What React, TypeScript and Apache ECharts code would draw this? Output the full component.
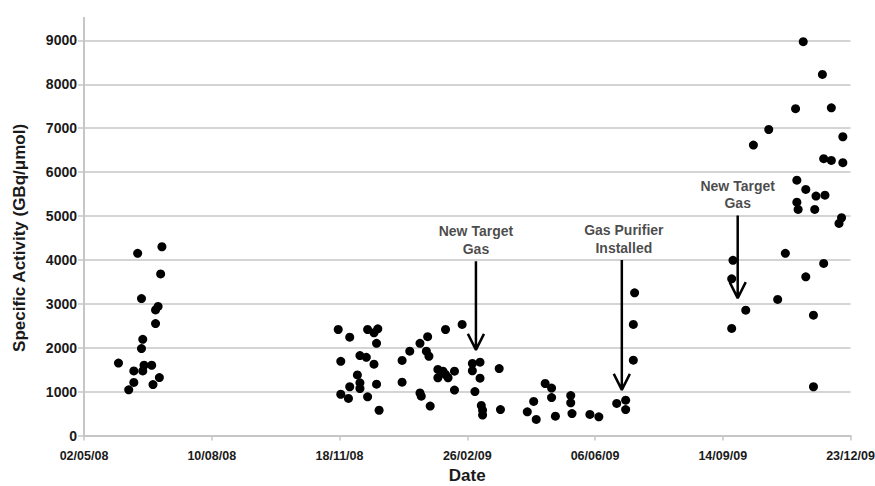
import React, { useEffect, useRef } from "react";
import * as echarts from "echarts";

// x = days since 02/05/08, y = specific activity (GBq/µmol)
const batch2008: [number, number][] = [
  [27, 1650], [35, 1040], [39, 1470], [39, 1210], [42, 4150], [45, 3120], [45, 1980],
  [46, 2190], [46, 1470], [47, 1600], [53, 1600], [54, 1160], [56, 2550], [56, 2860],
  [58, 2940], [59, 1320], [60, 3680], [61, 4300],
];
const batchWinter: [number, number][] = [
  [199, 2415], [208, 2240], [222, 2415], [230, 2430], [227, 2340], [229, 2100], [201, 1690],
  [216, 1820], [221, 1780], [227, 1625], [214, 1380], [216, 1200], [208, 1110], [216, 1070],
  [229, 1170], [201, 940], [207, 845], [222, 880], [231, 575], [249, 1710], [249, 1215],
  [255, 1920], [263, 2100], [269, 2250], [268, 1920], [270, 1805], [263, 970], [264, 895],
  [271, 670], [283, 2415], [296, 2530], [277, 1505], [281, 1465], [277, 1315], [285, 1315],
  [283, 1390], [290, 1465], [290, 1035], [304, 1640], [310, 1670], [304, 1475], [310, 1305],
  [306, 1000], [311, 685], [312, 575], [312, 465], [325, 1525], [326, 590],
];
const batchSpring: [number, number][] = [
  [361, 1185], [366, 1080], [366, 865], [352, 775], [347, 540], [354, 365], [369, 440],
  [381, 910], [381, 745], [382, 500], [396, 480], [403, 425], [417, 730], [424, 805],
  [424, 590], [431, 3250], [430, 2530], [430, 1715],
];
const batchAutumn: [number, number][] = [
  [508, 3990], [507, 3570], [507, 2440], [518, 2855], [543, 3100], [549, 4150], [565, 3615],
  [571, 2740], [571, 1110], [579, 3920], [524, 6615], [536, 6970], [557, 7445], [563, 8970],
  [578, 8225], [585, 7465], [594, 6805], [579, 6305], [585, 6265], [594, 6215], [558, 5815],
  [565, 5605], [573, 5455], [580, 5475], [558, 5315], [559, 5150], [572, 5150], [593, 4960],
  [591, 4830],
];

const xTickLabels = ["02/05/08", "10/08/08", "18/11/08", "26/02/09", "06/06/09", "14/09/09", "23/12/09"];

// annotations: [day, arrow start value, arrow tip value]
const annotationText = ["New Target\nGas", "Gas Purifier\nInstalled", "New Target\nGas"];
const annotationDay = [306.8, 421, 511.7];
const annotationStart = [3970, 4000, 5010];
const annotationTip = [1950, 1040, 3130];

const FONT = "'Liberation Sans', Arial, Helvetica, sans-serif";
const TEXT = "#1a1a1a";
const GRID = "#c6c6c6";

export default function App() {
  const ref = useRef<HTMLDivElement>(null);
  useEffect(() => {
    if (!ref.current) return;
    const chart = echarts.init(ref.current, undefined, { renderer: "svg" });
    const armDx = 6.3;
    const armDy = 365;
    const arrowSeries = annotationDay.map((d, i) => ({
      type: "line",
      symbol: "none",
      silent: true,
      z: 3,
      lineStyle: { color: "#000", width: 2.5 },
      data: [
        [d, annotationStart[i]],
        [d, annotationTip[i]],
        [d - armDx, annotationTip[i] + armDy],
        [d, annotationTip[i]],
        [d + armDx, annotationTip[i] + armDy],
      ],
    }));
    const labelSeries = {
      type: "scatter",
      symbol: "circle",
      symbolSize: 1,
      itemStyle: { color: "rgba(0,0,0,0)" },
      silent: true,
      data: annotationDay.map((d, i) => ({
        value: [d, annotationStart[i]],
        label: {
          show: true,
          position: "top",
          distance: 3,
          offset: i === 1 ? [2, 0] : [0, 0],
          formatter: annotationText[i],
          color: TEXT,
          fontFamily: FONT,
          fontWeight: "bold",
          fontSize: 14,
          lineHeight: 17.5,
          align: "center",
        },
      })),
    };
    const pts = [...batch2008, ...batchWinter, ...batchSpring, ...batchAutumn];
    chart.setOption({
      animation: false,
      backgroundColor: "#fff",
      grid: { left: 84, right: 24.5, top: 40.4, bottom: 50.5, outerBoundsMode: "none", containLabel: false },
      xAxis: {
        type: "value",
        min: 0,
        max: 600,
        interval: 100,
        name: "Date",
        nameLocation: "middle",
        nameGap: 31,
        nameTextStyle: { color: TEXT, fontFamily: FONT, fontWeight: "bold", fontSize: 17 },
        axisLine: { show: true, lineStyle: { color: GRID, width: 2 } },
        axisTick: { show: true, length: 5, lineStyle: { color: GRID, width: 1.5 } },
        axisLabel: {
          formatter: (v: number) => xTickLabels[Math.round(v / 100)] ?? "",
          color: TEXT,
          fontFamily: FONT,
          fontWeight: "bold",
          fontSize: 12.5,
          margin: 14,
          showMinLabel: true,
          showMaxLabel: true,
        },
        splitLine: { show: false },
      },
      yAxis: {
        type: "value",
        min: 0,
        max: 9000,
        interval: 1000,
        name: "Specific Activity (GBq/μmol)",
        nameLocation: "middle",
        nameGap: 56,
        nameTextStyle: { color: TEXT, fontFamily: FONT, fontWeight: "bold", fontSize: 17 },
        axisLine: { show: true, lineStyle: { color: GRID, width: 2 } },
        axisTick: { show: true, length: 6, lineStyle: { color: GRID, width: 1.5 } },
        axisLabel: {
          formatter: (v: number) => String(v),
          color: TEXT,
          fontFamily: FONT,
          fontWeight: "bold",
          fontSize: 14,
          margin: 7,
        },
        splitLine: { show: true, lineStyle: { color: GRID, width: 1.5 } },
      },
      graphic: [
        {
          type: "line",
          shape: { x1: 84, y1: 17, x2: 84, y2: 41 },
          style: { stroke: GRID, lineWidth: 2 },
          silent: true,
        },
      ],
      series: [
        {
          type: "scatter",
          symbol: "circle",
          symbolSize: 9,
          itemStyle: { color: "#000", opacity: 1 },
          z: 4,
          data: pts,
        },
        ...arrowSeries,
        labelSeries,
      ],
    });
    return () => chart.dispose();
  }, []);
  return <div ref={ref} style={{ position: "fixed", left: 0, top: 0, width: 875, height: 486 }} />;
}
